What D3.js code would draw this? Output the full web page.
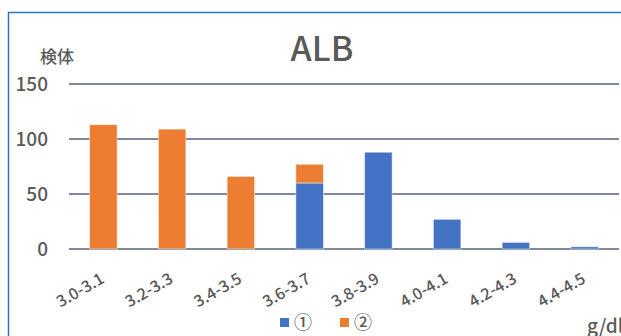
<!DOCTYPE html>
<html>
<head>
<meta charset="utf-8">
<script src="https://cdn.jsdelivr.net/npm/d3@7"></script>
<style>
  html, body { margin: 0; padding: 0; background: #fff; overflow: hidden; }
  svg { display: block; }
  text { font-family: "Noto Sans CJK JP", "Noto Sans", sans-serif; fill: #595959; font-weight: 500; }
</style>
</head>
<body>
<svg id="chart" width="621" height="336"></svg>
<script>
// ALB distribution by range (specimen counts)
const categories = ["3.0-3.1", "3.2-3.3", "3.4-3.5", "3.6-3.7", "3.8-3.9", "4.0-4.1", "4.2-4.3", "4.4-4.5"];
const series1 = [0, 0, 0, 60, 88, 27, 6, 2];      // ①
const series2 = [113, 109, 66, 17, 0, 0, 0, 0];   // ②
const seriesNames = ["①", "②"];
const seriesColors = ["#4472C4", "#ED7D31"];
const yTicks = [0, 50, 100, 150];

const svg = d3.select("#chart");

// chart frame
svg.append("rect")
  .attr("x", 8.5).attr("y", 12.5)
  .attr("width", 700).attr("height", 400)
  .attr("fill", "none")
  .attr("stroke", "#2E75B6")
  .attr("stroke-width", 1.5);

const plot = { left: 69, right: 619, top: 84, bottom: 249 };

const x = d3.scaleBand()
  .domain(categories)
  .range([plot.left, plot.right])
  .paddingInner(0.6)
  .paddingOuter(0.3);

const y = d3.scaleLinear()
  .domain([0, 150])
  .range([plot.bottom, plot.top]);

// horizontal gridlines
svg.append("g")
  .selectAll("line")
  .data(yTicks)
  .join("line")
  .attr("x1", plot.left).attr("x2", plot.right)
  .attr("y1", d => y(d)).attr("y2", d => y(d))
  .attr("stroke", "#56627a")
  .attr("stroke-width", 1.6);

// y tick labels
svg.append("g")
  .selectAll("text")
  .data(yTicks)
  .join("text")
  .attr("x", 48)
  .attr("y", d => y(d))
  .attr("dy", "0.36em")
  .attr("text-anchor", "end")
  .style("font-size", "19px")
  .text(d => d);

// stacked bars
const rows = categories.map((c, i) => ({ cat: c, s1: series1[i], s2: series2[i] }));
const stack = d3.stack().keys(["s1", "s2"])(rows);

svg.append("g")
  .selectAll("g")
  .data(stack)
  .join("g")
  .attr("fill", (d, i) => seriesColors[i])
  .selectAll("rect")
  .data(d => d.filter(p => p[1] - p[0] > 0))
  .join("rect")
  .attr("x", d => x(d.data.cat))
  .attr("width", x.bandwidth())
  .attr("y", d => y(d[1]))
  .attr("height", d => y(d[0]) - y(d[1]))
  .attr("stroke", "#fff")
  .attr("stroke-opacity", 0.6)
  .attr("stroke-width", 0.8);

// category labels
svg.append("g")
  .selectAll("text")
  .data(categories)
  .join("text")
  .attr("transform", d => `translate(${x(d) + x.bandwidth() / 2 + 2},${282}) rotate(-30)`)
  .attr("text-anchor", "end")
  .style("font-size", "16px")
  .text(d => d);

// title
svg.append("text")
  .attr("x", 322).attr("y", 61)
  .attr("text-anchor", "middle")
  .style("font-size", "34px")
  .text("ALB");

// axis unit labels
svg.append("text")
  .attr("x", 40).attr("y", 63)
  .style("font-size", "17px")
  .text("検体");

svg.append("text")
  .attr("x", 587).attr("y", 333)
  .style("font-size", "19px")
  .text("g/dl");

// legend
const legend = svg.append("g");
const legendX = [280, 340];
seriesNames.forEach((name, i) => {
  legend.append("rect")
    .attr("x", legendX[i]).attr("y", 318)
    .attr("width", 9).attr("height", 9)
    .attr("fill", seriesColors[i]);
  legend.append("text")
    .attr("x", legendX[i] + 14).attr("y", 329)
    .style("font-size", "18px")
    .text(name);
});
</script>
</body>
</html>
